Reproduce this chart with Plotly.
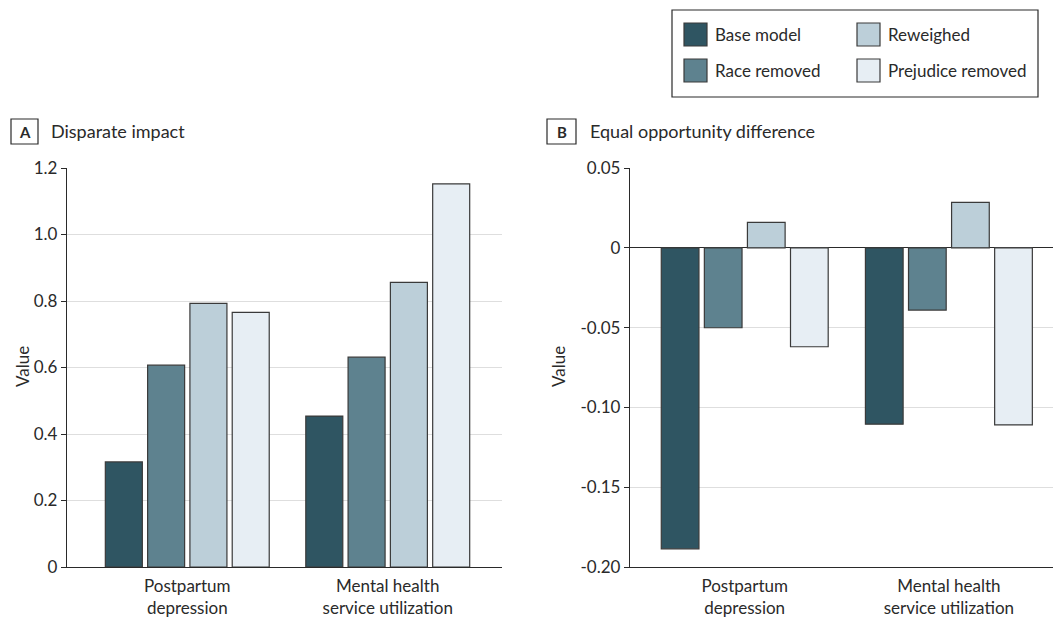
import plotly.graph_objects as go

# Data
categories = ["Postpartum depression", "Mental health service utilization"]
category_labels = ["Postpartum<br>depression", "Mental health<br>service utilization"]
series = ["Base model", "Race removed", "Reweighed", "Prejudice removed"]
colors = ["#2f5562", "#5e828f", "#bccfd9", "#e7eef4"]

disparate_impact = {
    "Base model": [0.316, 0.454],
    "Race removed": [0.607, 0.631],
    "Reweighed": [0.793, 0.856],
    "Prejudice removed": [0.766, 1.152],
}
equal_opportunity = {
    "Base model": [-0.1886, -0.1105],
    "Race removed": [-0.0501, -0.0390],
    "Reweighed": [0.0159, 0.0284],
    "Prejudice removed": [-0.0620, -0.1110],
}

W, H = 1053, 621
FONT = "Lato, 'Open Sans', sans-serif"
INK = "#2a2a2a"


def px(x):
    return x / W


def py(y):
    return 1 - y / H


fig = go.Figure()
for name, color in zip(series, colors):
    fig.add_trace(go.Bar(
        x=categories, y=disparate_impact[name], name=name,
        marker=dict(color=color, line=dict(color="#3a3a3a", width=1.2)),
        xaxis="x", yaxis="y", showlegend=False,
    ))
    fig.add_trace(go.Bar(
        x=categories, y=equal_opportunity[name], name=name,
        marker=dict(color=color, line=dict(color="#3a3a3a", width=1.2)),
        xaxis="x2", yaxis="y2", showlegend=False,
    ))

ydom = [py(567), py(168)]
tickfont = dict(family=FONT, size=17, color=INK)

xcommon = dict(
    type="category", tickmode="array", tickvals=categories, ticktext=category_labels,
    showgrid=False, zeroline=False, showline=True, linecolor=INK, linewidth=1.3,
    ticks="", tickfont=tickfont, ticklabelstandoff=3, automargin=False, fixedrange=True,
)
ycommon = dict(
    showgrid=True, gridcolor="#dedede", gridwidth=1, showline=True, linecolor=INK,
    linewidth=1.3, ticks="outside", ticklen=5, tickcolor=INK, tickwidth=1.3,
    tickfont=tickfont, automargin=False, fixedrange=True,
)

fig.update_layout(
    width=W, height=H,
    margin=dict(l=0, r=0, t=0, b=0),
    paper_bgcolor="white", plot_bgcolor="white",
    barmode="group", bargap=0.156, bargroupgap=0.125,
    font=dict(family=FONT, color=INK),
    xaxis=dict(xcommon, domain=[px(67), px(502)], range=[-0.6, 1.57], anchor="y"),
    yaxis=dict(ycommon, domain=ydom, range=[0, 1.2], anchor="x",
               tickvals=[0, 0.2, 0.4, 0.6, 0.8, 1.0, 1.2],
               ticktext=["0", "0.2", "0.4", "0.6", "0.8", "1.0", "1.2"], zeroline=False),
    xaxis2=dict(xcommon, domain=[px(630), 1.0], range=[-0.562, 1.51], anchor="y2"),
    yaxis2=dict(ycommon, domain=ydom, range=[-0.2, 0.05], anchor="x2",
                tickvals=[-0.2, -0.15, -0.1, -0.05, 0, 0.05],
                ticktext=["-0.20", "-0.15", "-0.10", "-0.05", "0", "0.05"],
                zeroline=True, zerolinecolor=INK, zerolinewidth=1.3),
)

shapes = []
annotations = []

# Panel headers: boxed letter + title
for letter, title, (x0, x1), tx in [("A", "Disparate impact", (11, 38), 49),
                                    ("B", "Equal opportunity difference", (547, 576), 588)]:
    shapes.append(dict(type="rect", xref="paper", yref="paper",
                       x0=px(x0), x1=px(x1), y0=py(144), y1=py(119),
                       line=dict(color=INK, width=1.2), fillcolor="white"))
    annotations.append(dict(xref="paper", yref="paper", x=px((x0 + x1) / 2), y=py(131.5),
                            text=f"<b>{letter}</b>", showarrow=False,
                            font=dict(family=FONT, size=15, color=INK),
                            xanchor="center", yanchor="middle"))
    annotations.append(dict(xref="paper", yref="paper", x=px(tx), y=py(131),
                            text=title, showarrow=False,
                            font=dict(family=FONT, size=18, color=INK),
                            xanchor="left", yanchor="middle"))

# Y axis titles
for xc in (22, 558):
    annotations.append(dict(xref="paper", yref="paper", x=px(xc), y=py(367),
                            text="Value", textangle=-90, showarrow=False,
                            font=dict(family=FONT, size=17, color=INK),
                            xanchor="center", yanchor="middle"))

# Legend key
shapes.append(dict(type="rect", xref="paper", yref="paper",
                   x0=px(672), x1=px(1038), y0=py(97), y1=py(10),
                   line=dict(color=INK, width=1.2), fillcolor="white"))
legend_slots = {
    "Base model": (684, 23),
    "Reweighed": (857, 23),
    "Race removed": (684, 59),
    "Prejudice removed": (857, 59),
}
for name, color in zip(series, colors):
    sx, sy = legend_slots[name]
    shapes.append(dict(type="rect", xref="paper", yref="paper",
                       x0=px(sx), x1=px(sx + 23), y0=py(sy + 23), y1=py(sy),
                       line=dict(color="#3a3a3a", width=1.2), fillcolor=color))
    annotations.append(dict(xref="paper", yref="paper", x=px(sx + 29), y=py(sy + 11.5),
                            text=name, showarrow=False,
                            font=dict(family=FONT, size=17, color=INK),
                            xanchor="left", yanchor="middle"))

fig.update_layout(shapes=shapes, annotations=annotations)

fig.write_html("out.html")
